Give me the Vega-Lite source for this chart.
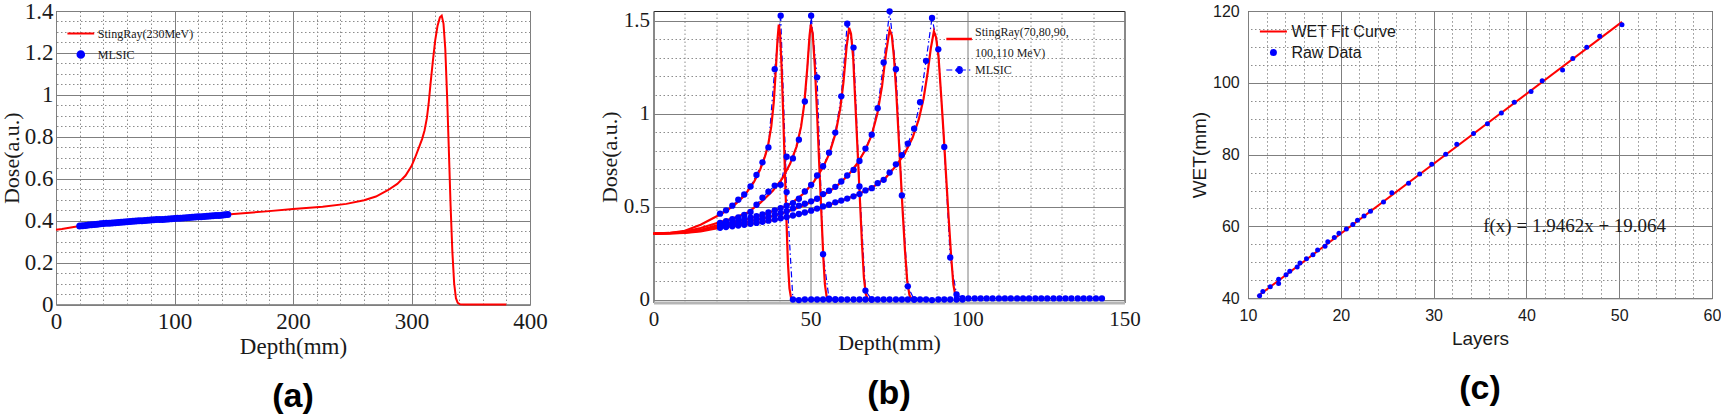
{
  "$schema": "https://vega.github.io/schema/vega-lite/v6.json",
  "background": "white",
  "padding": {"left": -1, "top": -1, "right": 0, "bottom": 0},
  "bounds": "flush",
  "spacing": 123.5,
  "resolve": {"scale": {"color": "independent"}, "legend": {"color": "independent"}},
  "config": {
    "view": {"stroke": "#262626", "strokeWidth": 1},
    "axis": {"ticks": false, "tickSize": 0, "domain": false, "gridColor": "#7f7f7f", "gridOpacity": 1, "gridWidth": 1, "labelColor": "#1a1a1a", "titleColor": "#1a1a1a", "titleFontWeight": "normal", "labelFlush": false, "labelOverlap": false},
    "legend": {"labelColor": "#1a1a1a"},
    "title": {"color": "#000000"}
  },
  "datasets": {
    "a_line": [
      {"depth": 0, "dose": 0.357, "series": "StingRay(230MeV)"},
      {"depth": 5, "dose": 0.36, "series": "StingRay(230MeV)"},
      {"depth": 10, "dose": 0.365, "series": "StingRay(230MeV)"},
      {"depth": 15, "dose": 0.37, "series": "StingRay(230MeV)"},
      {"depth": 20, "dose": 0.374, "series": "StingRay(230MeV)"},
      {"depth": 30, "dose": 0.38, "series": "StingRay(230MeV)"},
      {"depth": 40, "dose": 0.386, "series": "StingRay(230MeV)"},
      {"depth": 60, "dose": 0.395, "series": "StingRay(230MeV)"},
      {"depth": 80, "dose": 0.403, "series": "StingRay(230MeV)"},
      {"depth": 100, "dose": 0.41, "series": "StingRay(230MeV)"},
      {"depth": 125, "dose": 0.42, "series": "StingRay(230MeV)"},
      {"depth": 150, "dose": 0.432, "series": "StingRay(230MeV)"},
      {"depth": 175, "dose": 0.443, "series": "StingRay(230MeV)"},
      {"depth": 200, "dose": 0.455, "series": "StingRay(230MeV)"},
      {"depth": 225, "dose": 0.466, "series": "StingRay(230MeV)"},
      {"depth": 245, "dose": 0.48, "series": "StingRay(230MeV)"},
      {"depth": 260, "dose": 0.497, "series": "StingRay(230MeV)"},
      {"depth": 270, "dose": 0.515, "series": "StingRay(230MeV)"},
      {"depth": 280, "dose": 0.545, "series": "StingRay(230MeV)"},
      {"depth": 288, "dose": 0.575, "series": "StingRay(230MeV)"},
      {"depth": 295, "dose": 0.615, "series": "StingRay(230MeV)"},
      {"depth": 300, "dose": 0.66, "series": "StingRay(230MeV)"},
      {"depth": 303, "dose": 0.7, "series": "StingRay(230MeV)"},
      {"depth": 306, "dose": 0.745, "series": "StingRay(230MeV)"},
      {"depth": 309, "dose": 0.79, "series": "StingRay(230MeV)"},
      {"depth": 311, "dose": 0.83, "series": "StingRay(230MeV)"},
      {"depth": 313, "dose": 0.89, "series": "StingRay(230MeV)"},
      {"depth": 314.5, "dose": 0.96, "series": "StingRay(230MeV)"},
      {"depth": 316, "dose": 1.05, "series": "StingRay(230MeV)"},
      {"depth": 318, "dose": 1.16, "series": "StingRay(230MeV)"},
      {"depth": 320, "dose": 1.26, "series": "StingRay(230MeV)"},
      {"depth": 322, "dose": 1.33, "series": "StingRay(230MeV)"},
      {"depth": 324, "dose": 1.37, "series": "StingRay(230MeV)"},
      {"depth": 325.5, "dose": 1.378, "series": "StingRay(230MeV)"},
      {"depth": 327, "dose": 1.34, "series": "StingRay(230MeV)"},
      {"depth": 328.5, "dose": 1.22, "series": "StingRay(230MeV)"},
      {"depth": 330, "dose": 1.0, "series": "StingRay(230MeV)"},
      {"depth": 331.5, "dose": 0.74, "series": "StingRay(230MeV)"},
      {"depth": 333, "dose": 0.47, "series": "StingRay(230MeV)"},
      {"depth": 334.5, "dose": 0.25, "series": "StingRay(230MeV)"},
      {"depth": 336, "dose": 0.1, "series": "StingRay(230MeV)"},
      {"depth": 337.5, "dose": 0.03, "series": "StingRay(230MeV)"},
      {"depth": 339, "dose": 0.008, "series": "StingRay(230MeV)"},
      {"depth": 341, "dose": 0.001, "series": "StingRay(230MeV)"},
      {"depth": 344, "dose": 0, "series": "StingRay(230MeV)"},
      {"depth": 380, "dose": 0, "series": "StingRay(230MeV)"}
    ],
    "a_pts": [
      {"depth": 20, "dose": 0.374, "series": "MLSIC"}, {"depth": 22.5, "dose": 0.376, "series": "MLSIC"},
      {"depth": 25, "dose": 0.377, "series": "MLSIC"}, {"depth": 27.5, "dose": 0.379, "series": "MLSIC"},
      {"depth": 30, "dose": 0.38, "series": "MLSIC"}, {"depth": 32.5, "dose": 0.382, "series": "MLSIC"},
      {"depth": 35, "dose": 0.383, "series": "MLSIC"}, {"depth": 37.5, "dose": 0.385, "series": "MLSIC"},
      {"depth": 40, "dose": 0.386, "series": "MLSIC"}, {"depth": 42.5, "dose": 0.387, "series": "MLSIC"},
      {"depth": 45, "dose": 0.388, "series": "MLSIC"}, {"depth": 47.5, "dose": 0.389, "series": "MLSIC"},
      {"depth": 50, "dose": 0.39, "series": "MLSIC"}, {"depth": 52.5, "dose": 0.391, "series": "MLSIC"},
      {"depth": 55, "dose": 0.392, "series": "MLSIC"}, {"depth": 57.5, "dose": 0.394, "series": "MLSIC"},
      {"depth": 60, "dose": 0.395, "series": "MLSIC"}, {"depth": 62.5, "dose": 0.396, "series": "MLSIC"},
      {"depth": 65, "dose": 0.397, "series": "MLSIC"}, {"depth": 67.5, "dose": 0.398, "series": "MLSIC"},
      {"depth": 70, "dose": 0.399, "series": "MLSIC"}, {"depth": 72.5, "dose": 0.4, "series": "MLSIC"},
      {"depth": 75, "dose": 0.401, "series": "MLSIC"}, {"depth": 77.5, "dose": 0.402, "series": "MLSIC"},
      {"depth": 80, "dose": 0.403, "series": "MLSIC"}, {"depth": 82.5, "dose": 0.404, "series": "MLSIC"},
      {"depth": 85, "dose": 0.405, "series": "MLSIC"}, {"depth": 87.5, "dose": 0.406, "series": "MLSIC"},
      {"depth": 90, "dose": 0.406, "series": "MLSIC"}, {"depth": 92.5, "dose": 0.407, "series": "MLSIC"},
      {"depth": 95, "dose": 0.408, "series": "MLSIC"}, {"depth": 97.5, "dose": 0.409, "series": "MLSIC"},
      {"depth": 100, "dose": 0.41, "series": "MLSIC"}, {"depth": 102.5, "dose": 0.411, "series": "MLSIC"},
      {"depth": 105, "dose": 0.412, "series": "MLSIC"}, {"depth": 107.5, "dose": 0.413, "series": "MLSIC"},
      {"depth": 110, "dose": 0.414, "series": "MLSIC"}, {"depth": 112.5, "dose": 0.415, "series": "MLSIC"},
      {"depth": 115, "dose": 0.416, "series": "MLSIC"}, {"depth": 117.5, "dose": 0.417, "series": "MLSIC"},
      {"depth": 120, "dose": 0.418, "series": "MLSIC"}, {"depth": 122.5, "dose": 0.419, "series": "MLSIC"},
      {"depth": 125, "dose": 0.42, "series": "MLSIC"}, {"depth": 127.5, "dose": 0.421, "series": "MLSIC"},
      {"depth": 130, "dose": 0.422, "series": "MLSIC"}, {"depth": 132.5, "dose": 0.423, "series": "MLSIC"},
      {"depth": 135, "dose": 0.424, "series": "MLSIC"}, {"depth": 137.5, "dose": 0.425, "series": "MLSIC"},
      {"depth": 140, "dose": 0.426, "series": "MLSIC"}, {"depth": 142.5, "dose": 0.428, "series": "MLSIC"},
      {"depth": 145, "dose": 0.429, "series": "MLSIC"}
    ],
    "b_red": [
      {"depth": 0, "dose": 0.355, "E": 70, "series": "StingRay"}, {"depth": 5, "dose": 0.358, "E": 70, "series": "StingRay"},
      {"depth": 10, "dose": 0.37, "E": 70, "series": "StingRay"}, {"depth": 15, "dose": 0.402, "E": 70, "series": "StingRay"},
      {"depth": 20, "dose": 0.447, "E": 70, "series": "StingRay"}, {"depth": 23, "dose": 0.474, "E": 70, "series": "StingRay"},
      {"depth": 26, "dose": 0.512, "E": 70, "series": "StingRay"}, {"depth": 29, "dose": 0.56, "E": 70, "series": "StingRay"},
      {"depth": 32, "dose": 0.632, "E": 70, "series": "StingRay"}, {"depth": 34, "dose": 0.7, "E": 70, "series": "StingRay"},
      {"depth": 35.5, "dose": 0.77, "E": 70, "series": "StingRay"}, {"depth": 36.5, "dose": 0.83, "E": 70, "series": "StingRay"},
      {"depth": 37.5, "dose": 0.93, "E": 70, "series": "StingRay"}, {"depth": 38.3, "dose": 1.06, "E": 70, "series": "StingRay"},
      {"depth": 39, "dose": 1.25, "E": 70, "series": "StingRay"}, {"depth": 39.5, "dose": 1.4, "E": 70, "series": "StingRay"},
      {"depth": 39.9, "dose": 1.479, "E": 70, "series": "StingRay"}, {"depth": 40.3, "dose": 1.43, "E": 70, "series": "StingRay"},
      {"depth": 40.8, "dose": 1.25, "E": 70, "series": "StingRay"}, {"depth": 41.3, "dose": 1.0, "E": 70, "series": "StingRay"},
      {"depth": 41.8, "dose": 0.72, "E": 70, "series": "StingRay"}, {"depth": 42.3, "dose": 0.45, "E": 70, "series": "StingRay"},
      {"depth": 42.8, "dose": 0.2, "E": 70, "series": "StingRay"}, {"depth": 43.3, "dose": 0.06, "E": 70, "series": "StingRay"},
      {"depth": 43.8, "dose": 0.01, "E": 70, "series": "StingRay"}, {"depth": 44.3, "dose": 0, "E": 70, "series": "StingRay"},
      {"depth": 46, "dose": 0, "E": 70, "series": "StingRay"},

      {"depth": 0, "dose": 0.355, "E": 80, "series": "StingRay"}, {"depth": 5, "dose": 0.357, "E": 80, "series": "StingRay"},
      {"depth": 10, "dose": 0.365, "E": 80, "series": "StingRay"}, {"depth": 15, "dose": 0.385, "E": 80, "series": "StingRay"},
      {"depth": 20, "dose": 0.41, "E": 80, "series": "StingRay"}, {"depth": 25, "dose": 0.435, "E": 80, "series": "StingRay"},
      {"depth": 30, "dose": 0.468, "E": 80, "series": "StingRay"}, {"depth": 34, "dose": 0.52, "E": 80, "series": "StingRay"},
      {"depth": 38, "dose": 0.585, "E": 80, "series": "StingRay"}, {"depth": 41, "dose": 0.65, "E": 80, "series": "StingRay"},
      {"depth": 43.5, "dose": 0.73, "E": 80, "series": "StingRay"}, {"depth": 45.5, "dose": 0.82, "E": 80, "series": "StingRay"},
      {"depth": 47, "dose": 0.93, "E": 80, "series": "StingRay"}, {"depth": 48, "dose": 1.05, "E": 80, "series": "StingRay"},
      {"depth": 49, "dose": 1.25, "E": 80, "series": "StingRay"}, {"depth": 49.7, "dose": 1.42, "E": 80, "series": "StingRay"},
      {"depth": 50.1, "dose": 1.479, "E": 80, "series": "StingRay"}, {"depth": 50.7, "dose": 1.43, "E": 80, "series": "StingRay"},
      {"depth": 51.4, "dose": 1.25, "E": 80, "series": "StingRay"}, {"depth": 52.1, "dose": 1.0, "E": 80, "series": "StingRay"},
      {"depth": 52.8, "dose": 0.72, "E": 80, "series": "StingRay"}, {"depth": 53.5, "dose": 0.45, "E": 80, "series": "StingRay"},
      {"depth": 54.1, "dose": 0.22, "E": 80, "series": "StingRay"}, {"depth": 54.6, "dose": 0.08, "E": 80, "series": "StingRay"},
      {"depth": 55.1, "dose": 0.02, "E": 80, "series": "StingRay"}, {"depth": 55.6, "dose": 0, "E": 80, "series": "StingRay"},
      {"depth": 57, "dose": 0, "E": 80, "series": "StingRay"},

      {"depth": 0, "dose": 0.355, "E": 90, "series": "StingRay"}, {"depth": 5, "dose": 0.357, "E": 90, "series": "StingRay"},
      {"depth": 10, "dose": 0.362, "E": 90, "series": "StingRay"}, {"depth": 15, "dose": 0.375, "E": 90, "series": "StingRay"},
      {"depth": 20, "dose": 0.398, "E": 90, "series": "StingRay"}, {"depth": 25, "dose": 0.414, "E": 90, "series": "StingRay"},
      {"depth": 30, "dose": 0.433, "E": 90, "series": "StingRay"}, {"depth": 35, "dose": 0.457, "E": 90, "series": "StingRay"},
      {"depth": 40, "dose": 0.487, "E": 90, "series": "StingRay"}, {"depth": 44, "dose": 0.518, "E": 90, "series": "StingRay"},
      {"depth": 48, "dose": 0.573, "E": 90, "series": "StingRay"}, {"depth": 51, "dose": 0.632, "E": 90, "series": "StingRay"},
      {"depth": 54, "dose": 0.712, "E": 90, "series": "StingRay"}, {"depth": 56, "dose": 0.785, "E": 90, "series": "StingRay"},
      {"depth": 58, "dose": 0.895, "E": 90, "series": "StingRay"}, {"depth": 59.5, "dose": 1.03, "E": 90, "series": "StingRay"},
      {"depth": 60.5, "dose": 1.17, "E": 90, "series": "StingRay"}, {"depth": 61.5, "dose": 1.36, "E": 90, "series": "StingRay"},
      {"depth": 62.3, "dose": 1.461, "E": 90, "series": "StingRay"}, {"depth": 62.9, "dose": 1.43, "E": 90, "series": "StingRay"},
      {"depth": 63.6, "dose": 1.3, "E": 90, "series": "StingRay"}, {"depth": 64.3, "dose": 1.05, "E": 90, "series": "StingRay"},
      {"depth": 65, "dose": 0.8, "E": 90, "series": "StingRay"}, {"depth": 65.7, "dose": 0.55, "E": 90, "series": "StingRay"},
      {"depth": 66.4, "dose": 0.3, "E": 90, "series": "StingRay"}, {"depth": 67, "dose": 0.12, "E": 90, "series": "StingRay"},
      {"depth": 67.6, "dose": 0.03, "E": 90, "series": "StingRay"}, {"depth": 68.3, "dose": 0, "E": 90, "series": "StingRay"},
      {"depth": 70, "dose": 0, "E": 90, "series": "StingRay"},

      {"depth": 0, "dose": 0.355, "E": 100, "series": "StingRay"}, {"depth": 5, "dose": 0.356, "E": 100, "series": "StingRay"},
      {"depth": 10, "dose": 0.36, "E": 100, "series": "StingRay"}, {"depth": 15, "dose": 0.371, "E": 100, "series": "StingRay"},
      {"depth": 20, "dose": 0.39, "E": 100, "series": "StingRay"}, {"depth": 25, "dose": 0.404, "E": 100, "series": "StingRay"},
      {"depth": 30, "dose": 0.419, "E": 100, "series": "StingRay"}, {"depth": 35, "dose": 0.436, "E": 100, "series": "StingRay"},
      {"depth": 40, "dose": 0.458, "E": 100, "series": "StingRay"}, {"depth": 45, "dose": 0.487, "E": 100, "series": "StingRay"},
      {"depth": 50, "dose": 0.522, "E": 100, "series": "StingRay"}, {"depth": 54, "dose": 0.56, "E": 100, "series": "StingRay"},
      {"depth": 58, "dose": 0.605, "E": 100, "series": "StingRay"}, {"depth": 62, "dose": 0.668, "E": 100, "series": "StingRay"},
      {"depth": 65, "dose": 0.735, "E": 100, "series": "StingRay"}, {"depth": 67.5, "dose": 0.805, "E": 100, "series": "StingRay"},
      {"depth": 69.5, "dose": 0.885, "E": 100, "series": "StingRay"}, {"depth": 71.3, "dose": 1.0, "E": 100, "series": "StingRay"},
      {"depth": 72.8, "dose": 1.15, "E": 100, "series": "StingRay"}, {"depth": 74, "dose": 1.32, "E": 100, "series": "StingRay"},
      {"depth": 75.2, "dose": 1.452, "E": 100, "series": "StingRay"}, {"depth": 75.9, "dose": 1.42, "E": 100, "series": "StingRay"},
      {"depth": 76.6, "dose": 1.3, "E": 100, "series": "StingRay"}, {"depth": 77.3, "dose": 1.12, "E": 100, "series": "StingRay"},
      {"depth": 78, "dose": 0.9, "E": 100, "series": "StingRay"}, {"depth": 78.7, "dose": 0.68, "E": 100, "series": "StingRay"},
      {"depth": 79.4, "dose": 0.46, "E": 100, "series": "StingRay"}, {"depth": 80.1, "dose": 0.26, "E": 100, "series": "StingRay"},
      {"depth": 80.8, "dose": 0.1, "E": 100, "series": "StingRay"}, {"depth": 81.5, "dose": 0.025, "E": 100, "series": "StingRay"},
      {"depth": 82.2, "dose": 0, "E": 100, "series": "StingRay"}, {"depth": 84, "dose": 0, "E": 100, "series": "StingRay"},

      {"depth": 0, "dose": 0.355, "E": 110, "series": "StingRay"}, {"depth": 5, "dose": 0.356, "E": 110, "series": "StingRay"},
      {"depth": 10, "dose": 0.358, "E": 110, "series": "StingRay"}, {"depth": 15, "dose": 0.367, "E": 110, "series": "StingRay"},
      {"depth": 20, "dose": 0.383, "E": 110, "series": "StingRay"}, {"depth": 25, "dose": 0.394, "E": 110, "series": "StingRay"},
      {"depth": 30, "dose": 0.405, "E": 110, "series": "StingRay"}, {"depth": 35, "dose": 0.417, "E": 110, "series": "StingRay"},
      {"depth": 40, "dose": 0.434, "E": 110, "series": "StingRay"}, {"depth": 45, "dose": 0.453, "E": 110, "series": "StingRay"},
      {"depth": 50, "dose": 0.476, "E": 110, "series": "StingRay"}, {"depth": 55, "dose": 0.504, "E": 110, "series": "StingRay"},
      {"depth": 60, "dose": 0.532, "E": 110, "series": "StingRay"}, {"depth": 65, "dose": 0.565, "E": 110, "series": "StingRay"},
      {"depth": 70, "dose": 0.606, "E": 110, "series": "StingRay"}, {"depth": 74, "dose": 0.655, "E": 110, "series": "StingRay"},
      {"depth": 77, "dose": 0.715, "E": 110, "series": "StingRay"}, {"depth": 80, "dose": 0.785, "E": 110, "series": "StingRay"},
      {"depth": 82.5, "dose": 0.87, "E": 110, "series": "StingRay"}, {"depth": 84.5, "dose": 0.97, "E": 110, "series": "StingRay"},
      {"depth": 86, "dose": 1.08, "E": 110, "series": "StingRay"}, {"depth": 87.3, "dose": 1.22, "E": 110, "series": "StingRay"},
      {"depth": 88.3, "dose": 1.35, "E": 110, "series": "StingRay"}, {"depth": 89.3, "dose": 1.443, "E": 110, "series": "StingRay"},
      {"depth": 90, "dose": 1.41, "E": 110, "series": "StingRay"}, {"depth": 90.8, "dose": 1.3, "E": 110, "series": "StingRay"},
      {"depth": 91.6, "dose": 1.1, "E": 110, "series": "StingRay"}, {"depth": 92.4, "dose": 0.89, "E": 110, "series": "StingRay"},
      {"depth": 93.2, "dose": 0.66, "E": 110, "series": "StingRay"}, {"depth": 94, "dose": 0.44, "E": 110, "series": "StingRay"},
      {"depth": 94.8, "dose": 0.23, "E": 110, "series": "StingRay"}, {"depth": 95.5, "dose": 0.08, "E": 110, "series": "StingRay"},
      {"depth": 96.2, "dose": 0.015, "E": 110, "series": "StingRay"}, {"depth": 97, "dose": 0, "E": 110, "series": "StingRay"},
      {"depth": 99, "dose": 0, "E": 110, "series": "StingRay"}
    ],
    "b_blue": [
      {"depth": 21.2, "dose": 0.462, "E": 70, "series": "MLSIC"}, {"depth": 23.1, "dose": 0.48, "E": 70, "series": "MLSIC"},
      {"depth": 25.1, "dose": 0.505, "E": 70, "series": "MLSIC"}, {"depth": 27.0, "dose": 0.537, "E": 70, "series": "MLSIC"},
      {"depth": 28.9, "dose": 0.565, "E": 70, "series": "MLSIC"}, {"depth": 30.9, "dose": 0.608, "E": 70, "series": "MLSIC"},
      {"depth": 32.8, "dose": 0.67, "E": 70, "series": "MLSIC"}, {"depth": 34.7, "dose": 0.738, "E": 70, "series": "MLSIC"},
      {"depth": 36.6, "dose": 0.818, "E": 70, "series": "MLSIC"}, {"depth": 38.6, "dose": 1.239, "E": 70, "series": "MLSIC"},
      {"depth": 40.5, "dose": 1.527, "E": 70, "series": "MLSIC"}, {"depth": 42.4, "dose": 0.578, "E": 70, "series": "MLSIC"},
      {"depth": 44.4, "dose": 0, "E": 70, "series": "MLSIC"}, {"depth": 46.3, "dose": -0.003, "E": 70, "series": "MLSIC"},
      {"depth": 48.2, "dose": 0, "E": 70, "series": "MLSIC"}, {"depth": 50.2, "dose": 0, "E": 70, "series": "MLSIC"},
      {"depth": 52.1, "dose": 0, "E": 70, "series": "MLSIC"}, {"depth": 54.0, "dose": 0, "E": 70, "series": "MLSIC"},
      {"depth": 55.9, "dose": 0, "E": 70, "series": "MLSIC"}, {"depth": 57.9, "dose": 0, "E": 70, "series": "MLSIC"},
      {"depth": 59.8, "dose": 0, "E": 70, "series": "MLSIC"}, {"depth": 61.7, "dose": 0, "E": 70, "series": "MLSIC"},
      {"depth": 63.7, "dose": 0, "E": 70, "series": "MLSIC"}, {"depth": 65.6, "dose": 0, "E": 70, "series": "MLSIC"},
      {"depth": 67.5, "dose": 0, "E": 70, "series": "MLSIC"}, {"depth": 69.5, "dose": 0, "E": 70, "series": "MLSIC"},
      {"depth": 71.4, "dose": 0, "E": 70, "series": "MLSIC"}, {"depth": 73.3, "dose": 0, "E": 70, "series": "MLSIC"},
      {"depth": 75.2, "dose": 0, "E": 70, "series": "MLSIC"}, {"depth": 77.2, "dose": 0, "E": 70, "series": "MLSIC"},
      {"depth": 79.1, "dose": 0, "E": 70, "series": "MLSIC"}, {"depth": 81.0, "dose": 0, "E": 70, "series": "MLSIC"},
      {"depth": 83.0, "dose": 0, "E": 70, "series": "MLSIC"}, {"depth": 84.9, "dose": 0, "E": 70, "series": "MLSIC"},
      {"depth": 86.8, "dose": 0, "E": 70, "series": "MLSIC"}, {"depth": 88.7, "dose": -0.003, "E": 70, "series": "MLSIC"},
      {"depth": 90.7, "dose": 0, "E": 70, "series": "MLSIC"}, {"depth": 92.6, "dose": 0, "E": 70, "series": "MLSIC"},
      {"depth": 94.5, "dose": 0, "E": 70, "series": "MLSIC"}, {"depth": 96.5, "dose": 0, "E": 70, "series": "MLSIC"},
      {"depth": 98.4, "dose": 0, "E": 70, "series": "MLSIC"},

      {"depth": 21.2, "dose": 0.412, "E": 80, "series": "MLSIC"}, {"depth": 23.1, "dose": 0.422, "E": 80, "series": "MLSIC"},
      {"depth": 25.1, "dose": 0.432, "E": 80, "series": "MLSIC"}, {"depth": 27.0, "dose": 0.442, "E": 80, "series": "MLSIC"},
      {"depth": 28.9, "dose": 0.455, "E": 80, "series": "MLSIC"}, {"depth": 30.9, "dose": 0.471, "E": 80, "series": "MLSIC"},
      {"depth": 32.8, "dose": 0.51, "E": 80, "series": "MLSIC"}, {"depth": 34.7, "dose": 0.548, "E": 80, "series": "MLSIC"},
      {"depth": 36.6, "dose": 0.58, "E": 80, "series": "MLSIC"}, {"depth": 38.6, "dose": 0.613, "E": 80, "series": "MLSIC"},
      {"depth": 40.5, "dose": 0.617, "E": 80, "series": "MLSIC"}, {"depth": 42.4, "dose": 0.768, "E": 80, "series": "MLSIC"},
      {"depth": 44.4, "dose": 0.759, "E": 80, "series": "MLSIC"}, {"depth": 46.3, "dose": 0.86, "E": 80, "series": "MLSIC"},
      {"depth": 48.2, "dose": 1.065, "E": 80, "series": "MLSIC"}, {"depth": 50.2, "dose": 1.527, "E": 80, "series": "MLSIC"},
      {"depth": 52.1, "dose": 1.195, "E": 80, "series": "MLSIC"}, {"depth": 54.0, "dose": 0.244, "E": 80, "series": "MLSIC"},
      {"depth": 55.9, "dose": 0.005, "E": 80, "series": "MLSIC"}, {"depth": 57.9, "dose": 0, "E": 80, "series": "MLSIC"},

      {"depth": 21.2, "dose": 0.404, "E": 90, "series": "MLSIC"}, {"depth": 23.1, "dose": 0.41, "E": 90, "series": "MLSIC"},
      {"depth": 25.1, "dose": 0.418, "E": 90, "series": "MLSIC"}, {"depth": 27.0, "dose": 0.425, "E": 90, "series": "MLSIC"},
      {"depth": 28.9, "dose": 0.432, "E": 90, "series": "MLSIC"}, {"depth": 30.9, "dose": 0.44, "E": 90, "series": "MLSIC"},
      {"depth": 32.8, "dose": 0.448, "E": 90, "series": "MLSIC"}, {"depth": 34.7, "dose": 0.458, "E": 90, "series": "MLSIC"},
      {"depth": 36.6, "dose": 0.468, "E": 90, "series": "MLSIC"}, {"depth": 38.6, "dose": 0.48, "E": 90, "series": "MLSIC"},
      {"depth": 40.5, "dose": 0.492, "E": 90, "series": "MLSIC"}, {"depth": 42.4, "dose": 0.505, "E": 90, "series": "MLSIC"},
      {"depth": 44.4, "dose": 0.519, "E": 90, "series": "MLSIC"}, {"depth": 46.3, "dose": 0.542, "E": 90, "series": "MLSIC"},
      {"depth": 48.2, "dose": 0.581, "E": 90, "series": "MLSIC"}, {"depth": 50.2, "dose": 0.617, "E": 90, "series": "MLSIC"},
      {"depth": 52.1, "dose": 0.667, "E": 90, "series": "MLSIC"}, {"depth": 54.0, "dose": 0.717, "E": 90, "series": "MLSIC"},
      {"depth": 55.9, "dose": 0.79, "E": 90, "series": "MLSIC"}, {"depth": 57.9, "dose": 0.898, "E": 90, "series": "MLSIC"},
      {"depth": 59.8, "dose": 1.093, "E": 90, "series": "MLSIC"}, {"depth": 61.7, "dose": 1.484, "E": 90, "series": "MLSIC"},
      {"depth": 63.7, "dose": 1.355, "E": 90, "series": "MLSIC"}, {"depth": 65.6, "dose": 0.608, "E": 90, "series": "MLSIC"},
      {"depth": 67.5, "dose": 0.048, "E": 90, "series": "MLSIC"}, {"depth": 69.5, "dose": 0, "E": 90, "series": "MLSIC"},

      {"depth": 21.2, "dose": 0.395, "E": 100, "series": "MLSIC"}, {"depth": 23.1, "dose": 0.4, "E": 100, "series": "MLSIC"},
      {"depth": 25.1, "dose": 0.405, "E": 100, "series": "MLSIC"}, {"depth": 27.0, "dose": 0.41, "E": 100, "series": "MLSIC"},
      {"depth": 28.9, "dose": 0.416, "E": 100, "series": "MLSIC"}, {"depth": 30.9, "dose": 0.422, "E": 100, "series": "MLSIC"},
      {"depth": 32.8, "dose": 0.43, "E": 100, "series": "MLSIC"}, {"depth": 34.7, "dose": 0.437, "E": 100, "series": "MLSIC"},
      {"depth": 36.6, "dose": 0.445, "E": 100, "series": "MLSIC"}, {"depth": 38.6, "dose": 0.455, "E": 100, "series": "MLSIC"},
      {"depth": 40.5, "dose": 0.465, "E": 100, "series": "MLSIC"}, {"depth": 42.4, "dose": 0.475, "E": 100, "series": "MLSIC"},
      {"depth": 44.4, "dose": 0.49, "E": 100, "series": "MLSIC"}, {"depth": 46.3, "dose": 0.505, "E": 100, "series": "MLSIC"},
      {"depth": 48.2, "dose": 0.515, "E": 100, "series": "MLSIC"}, {"depth": 50.2, "dose": 0.528, "E": 100, "series": "MLSIC"},
      {"depth": 52.1, "dose": 0.542, "E": 100, "series": "MLSIC"}, {"depth": 54.0, "dose": 0.567, "E": 100, "series": "MLSIC"},
      {"depth": 55.9, "dose": 0.585, "E": 100, "series": "MLSIC"}, {"depth": 57.9, "dose": 0.606, "E": 100, "series": "MLSIC"},
      {"depth": 59.8, "dose": 0.635, "E": 100, "series": "MLSIC"}, {"depth": 61.7, "dose": 0.667, "E": 100, "series": "MLSIC"},
      {"depth": 63.7, "dose": 0.697, "E": 100, "series": "MLSIC"}, {"depth": 65.6, "dose": 0.745, "E": 100, "series": "MLSIC"},
      {"depth": 67.5, "dose": 0.812, "E": 100, "series": "MLSIC"}, {"depth": 69.5, "dose": 0.887, "E": 100, "series": "MLSIC"},
      {"depth": 71.4, "dose": 1.029, "E": 100, "series": "MLSIC"}, {"depth": 73.3, "dose": 1.275, "E": 100, "series": "MLSIC"},
      {"depth": 75.2, "dose": 1.55, "E": 100, "series": "MLSIC"}, {"depth": 77.2, "dose": 1.239, "E": 100, "series": "MLSIC"},
      {"depth": 79.1, "dose": 0.56, "E": 100, "series": "MLSIC"}, {"depth": 81.0, "dose": 0.071, "E": 100, "series": "MLSIC"},
      {"depth": 83.0, "dose": 0, "E": 100, "series": "MLSIC"},

      {"depth": 21.2, "dose": 0.386, "E": 110, "series": "MLSIC"}, {"depth": 23.1, "dose": 0.39, "E": 110, "series": "MLSIC"},
      {"depth": 25.1, "dose": 0.394, "E": 110, "series": "MLSIC"}, {"depth": 27.0, "dose": 0.398, "E": 110, "series": "MLSIC"},
      {"depth": 28.9, "dose": 0.402, "E": 110, "series": "MLSIC"}, {"depth": 30.9, "dose": 0.407, "E": 110, "series": "MLSIC"},
      {"depth": 32.8, "dose": 0.412, "E": 110, "series": "MLSIC"}, {"depth": 34.7, "dose": 0.418, "E": 110, "series": "MLSIC"},
      {"depth": 36.6, "dose": 0.424, "E": 110, "series": "MLSIC"}, {"depth": 38.6, "dose": 0.43, "E": 110, "series": "MLSIC"},
      {"depth": 40.5, "dose": 0.437, "E": 110, "series": "MLSIC"}, {"depth": 42.4, "dose": 0.444, "E": 110, "series": "MLSIC"},
      {"depth": 44.4, "dose": 0.452, "E": 110, "series": "MLSIC"}, {"depth": 46.3, "dose": 0.46, "E": 110, "series": "MLSIC"},
      {"depth": 48.2, "dose": 0.468, "E": 110, "series": "MLSIC"}, {"depth": 50.2, "dose": 0.478, "E": 110, "series": "MLSIC"},
      {"depth": 52.1, "dose": 0.489, "E": 110, "series": "MLSIC"}, {"depth": 54.0, "dose": 0.501, "E": 110, "series": "MLSIC"},
      {"depth": 55.9, "dose": 0.51, "E": 110, "series": "MLSIC"}, {"depth": 57.9, "dose": 0.523, "E": 110, "series": "MLSIC"},
      {"depth": 59.8, "dose": 0.532, "E": 110, "series": "MLSIC"}, {"depth": 61.7, "dose": 0.543, "E": 110, "series": "MLSIC"},
      {"depth": 63.7, "dose": 0.555, "E": 110, "series": "MLSIC"}, {"depth": 65.6, "dose": 0.567, "E": 110, "series": "MLSIC"},
      {"depth": 67.5, "dose": 0.587, "E": 110, "series": "MLSIC"}, {"depth": 69.5, "dose": 0.599, "E": 110, "series": "MLSIC"},
      {"depth": 71.4, "dose": 0.626, "E": 110, "series": "MLSIC"}, {"depth": 73.3, "dose": 0.644, "E": 110, "series": "MLSIC"},
      {"depth": 75.2, "dose": 0.683, "E": 110, "series": "MLSIC"}, {"depth": 77.2, "dose": 0.727, "E": 110, "series": "MLSIC"},
      {"depth": 79.1, "dose": 0.777, "E": 110, "series": "MLSIC"}, {"depth": 81.0, "dose": 0.839, "E": 110, "series": "MLSIC"},
      {"depth": 83.0, "dose": 0.919, "E": 110, "series": "MLSIC"}, {"depth": 84.9, "dose": 1.061, "E": 110, "series": "MLSIC"},
      {"depth": 86.8, "dose": 1.284, "E": 110, "series": "MLSIC"}, {"depth": 88.7, "dose": 1.515, "E": 110, "series": "MLSIC"},
      {"depth": 90.7, "dose": 1.346, "E": 110, "series": "MLSIC"}, {"depth": 92.6, "dose": 0.821, "E": 110, "series": "MLSIC"},
      {"depth": 94.5, "dose": 0.226, "E": 110, "series": "MLSIC"}, {"depth": 96.5, "dose": 0.027, "E": 110, "series": "MLSIC"},
      {"depth": 98.4, "dose": 0.008, "E": 110, "series": "MLSIC"}, {"depth": 100.3, "dose": 0.006, "E": 110, "series": "MLSIC"},
      {"depth": 102.3, "dose": 0.006, "E": 110, "series": "MLSIC"}, {"depth": 104.2, "dose": 0.006, "E": 110, "series": "MLSIC"},
      {"depth": 106.1, "dose": 0.006, "E": 110, "series": "MLSIC"}, {"depth": 108.0, "dose": 0.006, "E": 110, "series": "MLSIC"},
      {"depth": 110.0, "dose": 0.006, "E": 110, "series": "MLSIC"}, {"depth": 111.9, "dose": 0.006, "E": 110, "series": "MLSIC"},
      {"depth": 113.8, "dose": 0.006, "E": 110, "series": "MLSIC"}, {"depth": 115.8, "dose": 0.006, "E": 110, "series": "MLSIC"},
      {"depth": 117.7, "dose": 0.006, "E": 110, "series": "MLSIC"}, {"depth": 119.6, "dose": 0.006, "E": 110, "series": "MLSIC"},
      {"depth": 121.6, "dose": 0.006, "E": 110, "series": "MLSIC"}, {"depth": 123.5, "dose": 0.006, "E": 110, "series": "MLSIC"},
      {"depth": 125.4, "dose": 0.006, "E": 110, "series": "MLSIC"}, {"depth": 127.4, "dose": 0.006, "E": 110, "series": "MLSIC"},
      {"depth": 129.3, "dose": 0.006, "E": 110, "series": "MLSIC"}, {"depth": 131.2, "dose": 0.006, "E": 110, "series": "MLSIC"},
      {"depth": 133.1, "dose": 0.006, "E": 110, "series": "MLSIC"}, {"depth": 135.1, "dose": 0.006, "E": 110, "series": "MLSIC"},
      {"depth": 137.0, "dose": 0.006, "E": 110, "series": "MLSIC"}, {"depth": 138.9, "dose": 0.006, "E": 110, "series": "MLSIC"},
      {"depth": 140.9, "dose": 0.006, "E": 110, "series": "MLSIC"}, {"depth": 142.8, "dose": 0.006, "E": 110, "series": "MLSIC"}
    ],
    "c_fit": [
      {"layers": 11.0, "wet": 40.47, "series": "WET Fit Curve"},
      {"layers": 50.3, "wet": 116.96, "series": "WET Fit Curve"}
    ],
    "c_raw": [
      {"layers": 11.25, "wet": 40.7, "series": "Raw Data"}, {"layers": 11.6, "wet": 41.9, "series": "Raw Data"},
      {"layers": 12.4, "wet": 43.2, "series": "Raw Data"}, {"layers": 13.3, "wet": 44.1, "series": "Raw Data"},
      {"layers": 13.3, "wet": 45.3, "series": "Raw Data"}, {"layers": 14.1, "wet": 46.5, "series": "Raw Data"},
      {"layers": 14.5, "wet": 47.5, "series": "Raw Data"}, {"layers": 15.3, "wet": 48.7, "series": "Raw Data"},
      {"layers": 15.6, "wet": 49.8, "series": "Raw Data"}, {"layers": 16.3, "wet": 51.0, "series": "Raw Data"},
      {"layers": 17.0, "wet": 52.1, "series": "Raw Data"}, {"layers": 17.5, "wet": 53.4, "series": "Raw Data"},
      {"layers": 18.3, "wet": 54.5, "series": "Raw Data"}, {"layers": 18.6, "wet": 55.7, "series": "Raw Data"},
      {"layers": 19.3, "wet": 56.9, "series": "Raw Data"}, {"layers": 19.8, "wet": 58.1, "series": "Raw Data"},
      {"layers": 20.6, "wet": 59.3, "series": "Raw Data"}, {"layers": 21.3, "wet": 60.5, "series": "Raw Data"},
      {"layers": 21.8, "wet": 61.7, "series": "Raw Data"}, {"layers": 22.5, "wet": 62.9, "series": "Raw Data"},
      {"layers": 23.2, "wet": 64.2, "series": "Raw Data"}, {"layers": 24.6, "wet": 66.8, "series": "Raw Data"},
      {"layers": 25.5, "wet": 69.4, "series": "Raw Data"}, {"layers": 27.3, "wet": 72.0, "series": "Raw Data"},
      {"layers": 28.5, "wet": 74.6, "series": "Raw Data"}, {"layers": 29.8, "wet": 77.3, "series": "Raw Data"},
      {"layers": 31.3, "wet": 80.1, "series": "Raw Data"}, {"layers": 32.5, "wet": 82.9, "series": "Raw Data"},
      {"layers": 34.3, "wet": 85.9, "series": "Raw Data"}, {"layers": 35.8, "wet": 88.6, "series": "Raw Data"},
      {"layers": 37.3, "wet": 91.6, "series": "Raw Data"}, {"layers": 38.7, "wet": 94.6, "series": "Raw Data"},
      {"layers": 40.5, "wet": 97.6, "series": "Raw Data"}, {"layers": 41.7, "wet": 100.6, "series": "Raw Data"},
      {"layers": 43.9, "wet": 103.6, "series": "Raw Data"}, {"layers": 45.0, "wet": 106.8, "series": "Raw Data"},
      {"layers": 46.5, "wet": 109.9, "series": "Raw Data"}, {"layers": 47.9, "wet": 113.0, "series": "Raw Data"},
      {"layers": 50.3, "wet": 116.2, "series": "Raw Data"}
    ]
  },
  "hconcat": [
    {
      "width": 474,
      "height": 293.5,
      "title": {"text": "(a)", "orient": "bottom", "anchor": "middle", "font": "Liberation Sans", "fontSize": 34, "fontWeight": "bold", "offset": 21},
      "resolve": {"axis": {"x": "independent", "y": "independent"}},
      "layer": [
        {
          "data": {"name": "a_line"},
          "mark": {"type": "line", "strokeWidth": 2},
          "encoding": {
            "x": {"field": "depth", "type": "quantitative", "scale": {"domain": [0, 400], "nice": false, "zero": false},
              "axis": {"orient": "bottom", "values": [0, 100, 200, 300, 400], "format": "~r", "grid": true, "title": "Depth(mm)", "labelFont": "Liberation Serif", "labelFontSize": 23, "titleFont": "Liberation Serif", "titleFontSize": 23, "labelPadding": 6, "titlePadding": 2}},
            "y": {"field": "dose", "type": "quantitative", "scale": {"domain": [0, 1.4], "nice": false, "zero": false},
              "axis": {"orient": "left", "values": [0, 0.2, 0.4, 0.6, 0.8, 1, 1.2, 1.4], "format": "~r", "grid": true, "title": "Dose(a.u.)", "labelFont": "Liberation Serif", "labelFontSize": 23, "titleFont": "Liberation Serif", "titleFontSize": 22, "labelPadding": 3, "titlePadding": 1}},
            "color": {"field": "series", "type": "nominal", "scale": {"domain": ["StingRay(230MeV)", "MLSIC"], "range": ["#ff0000", "#0000ff"]},
              "legend": {"orient": "none", "legendX": 17.8, "legendY": 15.5, "title": null, "padding": 0, "symbolSize": 144, "labelOffset": 10, "rowPadding": 7, "labelFont": "Liberation Serif", "labelFontSize": 12,
                "encode": {"symbols": {"update": {
                  "shape": {"signal": "datum.value === 'MLSIC' ? 'M0.55,0A0.55,0.55 0 1,1 -0.55,0A0.55,0.55 0 1,1 0.55,0Z' : 'M-2.23,0L2.23,0'"},
                  "fill": {"signal": "datum.value === 'MLSIC' ? '#0000ff' : 'transparent'"},
                  "stroke": {"signal": "datum.value === 'MLSIC' ? 'transparent' : '#ff0000'"},
                  "strokeWidth": {"value": 2},
                  "size": {"value": 144},
                  "opacity": {"value": 1}
                }}}}}
          }
        },
        {
          "data": {"name": "a_pts"},
          "mark": {"type": "point", "filled": true, "size": 49, "opacity": 1},
          "encoding": {
            "x": {"field": "depth", "type": "quantitative", "scale": {"domain": [0, 400], "nice": false, "zero": false},
              "axis": {"orient": "top", "values": [20, 40, 60, 80, 120, 140, 160, 180, 220, 240, 260, 280, 320, 340, 360, 380], "grid": true, "labels": false, "title": null, "gridDash": [1.5, 2.5], "gridColor": "#8c8c8c"}},
            "y": {"field": "dose", "type": "quantitative", "scale": {"domain": [0, 1.4], "nice": false, "zero": false},
              "axis": {"orient": "right", "values": [0.05, 0.1, 0.15, 0.25, 0.3, 0.35, 0.45, 0.5, 0.55, 0.65, 0.7, 0.75, 0.85, 0.9, 0.95, 1.05, 1.1, 1.15, 1.25, 1.3, 1.35], "grid": true, "labels": false, "title": null, "gridDash": [1.5, 2.5], "gridColor": "#8c8c8c"}},
            "color": {"field": "series", "type": "nominal", "scale": {"domain": ["StingRay(230MeV)", "MLSIC"], "range": ["#ff0000", "#0000ff"]}}
          }
        }
      ]
    },
    {
      "width": 471,
      "height": 291.5,
      "title": {"text": "(b)", "orient": "bottom", "anchor": "middle", "font": "Liberation Sans", "fontSize": 34, "fontWeight": "bold", "offset": 23},
      "resolve": {"axis": {"x": "independent", "y": "independent"}},
      "layer": [
        {
          "data": {"name": "b_blue"},
          "mark": {"type": "line", "strokeWidth": 1.2, "strokeDash": [6, 3, 1.5, 3]},
          "encoding": {
            "x": {"field": "depth", "type": "quantitative", "scale": {"domain": [0, 150], "nice": false, "zero": false},
              "axis": {"orient": "bottom", "values": [0, 50, 100, 150], "format": "~r", "grid": true, "title": "Depth(mm)", "labelFont": "Liberation Serif", "labelFontSize": 21, "titleFont": "Liberation Serif", "titleFontSize": 22, "labelPadding": 6, "titlePadding": 3, "domain": true, "domainColor": "#b5b5b5", "domainWidth": 3}},
            "y": {"field": "dose", "type": "quantitative", "scale": {"domain": [-0.016, 1.552], "nice": false, "zero": false},
              "axis": {"orient": "left", "values": [0, 0.5, 1, 1.5], "format": "~r", "grid": true, "title": "Dose(a.u.)", "labelFont": "Liberation Serif", "labelFontSize": 21, "titleFont": "Liberation Serif", "titleFontSize": 22, "labelPadding": 4, "titlePadding": 2}},
            "detail": {"field": "E", "type": "nominal"},
            "color": {"field": "series", "type": "nominal", "scale": {"domain": ["StingRay", "MLSIC"], "range": ["#ff0000", "#0000ff"]}}
          }
        },
        {
          "data": {"name": "b_red"},
          "mark": {"type": "line", "strokeWidth": 2.2},
          "encoding": {
            "x": {"field": "depth", "type": "quantitative", "scale": {"domain": [0, 150], "nice": false, "zero": false}, "axis": null},
            "y": {"field": "dose", "type": "quantitative", "scale": {"domain": [-0.016, 1.552], "nice": false, "zero": false}, "axis": null},
            "detail": {"field": "E", "type": "nominal"},
            "color": {"field": "series", "type": "nominal", "scale": {"domain": ["StingRay", "MLSIC"], "range": ["#ff0000", "#0000ff"]},
              "legend": {"orient": "none", "legendX": 299.6, "legendY": 22, "title": null, "padding": 0, "symbolSize": 144, "labelOffset": 10, "rowPadding": 5, "labelFont": "Liberation Serif", "labelFontSize": 12,
                "encode": {
                  "symbols": {"update": {
                    "shape": {"signal": "datum.value === 'MLSIC' ? 'M-2.13,0L2.13,0M0.55,0A0.55,0.55 0 1,1 -0.55,0A0.55,0.55 0 1,1 0.55,0Z' : 'M-2.13,0L2.13,0'"},
                    "fill": {"signal": "datum.value === 'MLSIC' ? '#0000ff' : 'transparent'"},
                    "stroke": {"signal": "datum.value === 'MLSIC' ? '#0000ff' : '#ff0000'"},
                    "strokeWidth": {"signal": "datum.value === 'MLSIC' ? 1.2 : 2.5"},
                    "strokeDash": {"signal": "datum.value === 'MLSIC' ? [6, 3, 1.5, 3] : []"},
                    "size": {"value": 144},
                    "opacity": {"value": 1}
                  }},
                  "labels": {"update": {
                    "text": {"signal": "datum.value === 'MLSIC' ? 'MLSIC' : ['StingRay(70,80,90,', '100,110 MeV)']"},
                    "lineHeight": {"value": 21},
                    "dy": {"signal": "datum.value === 'MLSIC' ? 0 : -7"}
                  }}
                }}}
          }
        },
        {
          "data": {"name": "b_blue"},
          "mark": {"type": "point", "filled": true, "size": 40, "opacity": 1},
          "encoding": {
            "x": {"field": "depth", "type": "quantitative", "scale": {"domain": [0, 150], "nice": false, "zero": false},
              "axis": {"orient": "top", "values": [10, 20, 30, 40, 60, 70, 80, 90, 110, 120, 130, 140], "grid": true, "labels": false, "title": null, "gridDash": [1.5, 2.5], "gridColor": "#8c8c8c"}},
            "y": {"field": "dose", "type": "quantitative", "scale": {"domain": [-0.016, 1.552], "nice": false, "zero": false},
              "axis": {"orient": "right", "values": [0.1, 0.2, 0.3, 0.4, 0.6, 0.7, 0.8, 0.9, 1.1, 1.2, 1.3, 1.4], "grid": true, "labels": false, "title": null, "gridDash": [1.5, 2.5], "gridColor": "#8c8c8c"}},
            "color": {"field": "series", "type": "nominal", "scale": {"domain": ["StingRay", "MLSIC"], "range": ["#ff0000", "#0000ff"]}}
          }
        }
      ]
    },
    {
      "width": 464,
      "height": 287.2,
      "title": {"text": "(c)", "orient": "bottom", "anchor": "middle", "font": "Liberation Sans", "fontSize": 34, "fontWeight": "bold", "offset": 23},
      "resolve": {"axis": {"x": "independent", "y": "independent"}},
      "layer": [
        {
          "data": {"name": "c_fit"},
          "mark": {"type": "line", "strokeWidth": 2},
          "encoding": {
            "x": {"field": "layers", "type": "quantitative", "scale": {"domain": [10, 60], "nice": false, "zero": false},
              "axis": {"orient": "bottom", "values": [10, 20, 30, 40, 50, 60], "format": "~r", "grid": true, "title": "Layers", "labelFont": "Liberation Sans", "labelFontSize": 16, "titleFont": "Liberation Sans", "titleFontSize": 19, "labelPadding": 9.5, "titlePadding": 6}},
            "y": {"field": "wet", "type": "quantitative", "scale": {"domain": [40, 120], "nice": false, "zero": false},
              "axis": {"orient": "left", "values": [40, 60, 80, 100, 120], "format": "~r", "grid": true, "title": "WET(mm)", "labelFont": "Liberation Sans", "labelFontSize": 16, "titleFont": "Liberation Sans", "titleFontSize": 19, "labelPadding": 8.8, "titlePadding": 3.5}},
            "color": {"field": "series", "type": "nominal", "scale": {"domain": ["WET Fit Curve", "Raw Data"], "range": ["#ff0000", "#0000ff"]},
              "legend": {"orient": "none", "legendX": 17.4, "legendY": 12.5, "title": null, "padding": 0, "symbolSize": 144, "labelOffset": 10, "rowPadding": 5, "labelFont": "Liberation Sans", "labelFontSize": 16,
                "encode": {"symbols": {"update": {
                  "shape": {"signal": "datum.value === 'Raw Data' ? 'M0.42,0A0.42,0.42 0 1,1 -0.42,0A0.42,0.42 0 1,1 0.42,0Z' : 'M-2.25,0L2.25,0'"},
                  "fill": {"signal": "datum.value === 'Raw Data' ? '#0000ff' : 'transparent'"},
                  "stroke": {"signal": "datum.value === 'Raw Data' ? 'transparent' : '#ff0000'"},
                  "strokeWidth": {"value": 2},
                  "size": {"value": 144},
                  "opacity": {"value": 1}
                }}}}}
          }
        },
        {
          "data": {"name": "c_raw"},
          "mark": {"type": "point", "filled": true, "size": 25, "opacity": 1},
          "encoding": {
            "x": {"field": "layers", "type": "quantitative", "scale": {"domain": [10, 60], "nice": false, "zero": false},
              "axis": {"orient": "top", "values": [12, 14, 16, 18, 22, 24, 26, 28, 32, 34, 36, 38, 42, 44, 46, 48, 52, 54, 56, 58], "grid": true, "labels": false, "title": null, "gridDash": [1.5, 2.5], "gridColor": "#8c8c8c"}},
            "y": {"field": "wet", "type": "quantitative", "scale": {"domain": [40, 120], "nice": false, "zero": false},
              "axis": {"orient": "right", "values": [45, 50, 55, 65, 70, 75, 85, 90, 95, 105, 110, 115], "grid": true, "labels": false, "title": null, "gridDash": [1.5, 2.5], "gridColor": "#8c8c8c"}},
            "color": {"field": "series", "type": "nominal", "scale": {"domain": ["WET Fit Curve", "Raw Data"], "range": ["#ff0000", "#0000ff"]}}
          }
        },
        {
          "data": {"values": [{}]},
          "mark": {"type": "text", "font": "Liberation Serif", "fontSize": 19, "align": "center", "baseline": "middle", "color": "#1a1a1a"},
          "encoding": {
            "x": {"datum": 45.2, "type": "quantitative", "scale": {"domain": [10, 60], "nice": false, "zero": false}, "axis": null},
            "y": {"datum": 60.1, "type": "quantitative", "scale": {"domain": [40, 120], "nice": false, "zero": false}, "axis": null},
            "text": {"value": "f(x) = 1.9462x + 19.064"}
          }
        }
      ]
    }
  ]
}
